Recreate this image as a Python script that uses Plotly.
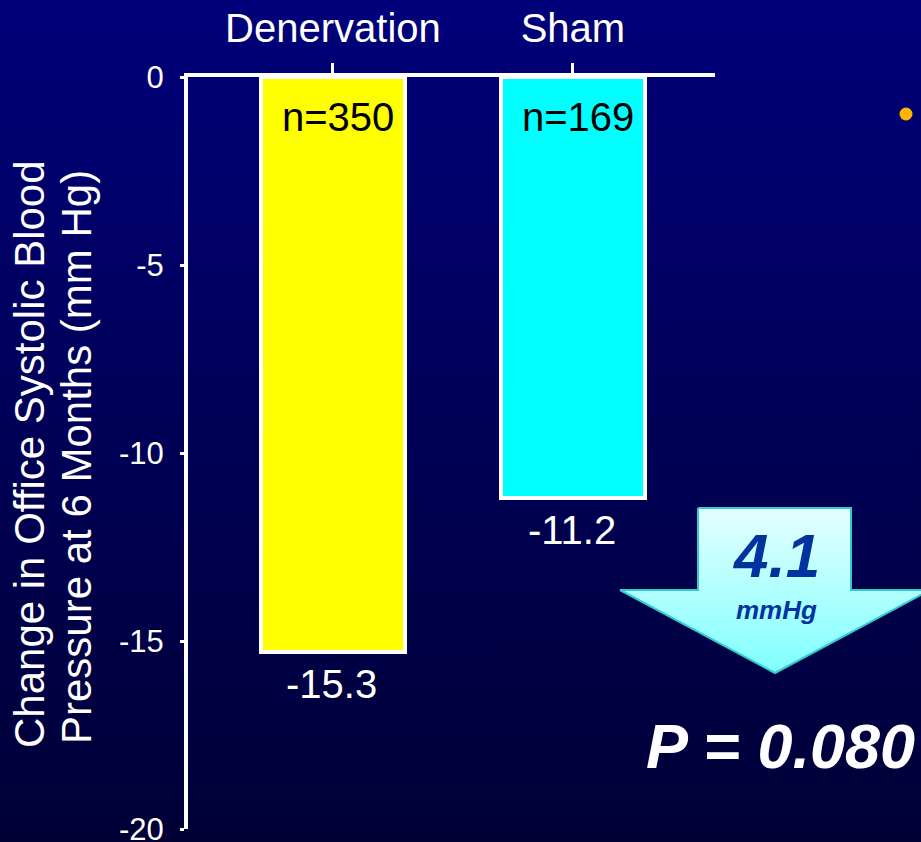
import base64
import plotly.graph_objects as go

# ---- data ----
categories = ["Denervation", "Sham"]
values = [-15.3, -11.2]
n_labels = ["n=350", "n=169"]
value_labels = ["-15.3", "-11.2"]
bar_colors = ["#ffff00", "#00ffff"]
y_ticks = [0, -5, -10, -15, -20]
y_ticktext = ["0", "-5", "-10", "-15", "-20"]
y_title_lines = ["Change in Office Systolic Blood", "Pressure at 6 Months (mm Hg)"]
diff_text = "4.1"
diff_unit = "mmHg"
p_text = "P = 0.080"

W, H = 921, 842
FONT = "Liberation Sans, Arial, sans-serif"

# decorative arrow outline (pixel space of the overlay layer)
arrow_x = [698, 851, 851, 930, 775, 620, 698, 698]
arrow_y = [508, 508, 590, 590, 673, 590, 590, 508]

fig = go.Figure()

fig.add_trace(go.Bar(
    x=categories, y=values, width=0.6,
    marker=dict(color=bar_colors, line=dict(color="white", width=4)),
    showlegend=False, hoverinfo="skip",
))

# arrow on overlay pixel layer
fig.add_trace(go.Scatter(
    x=arrow_x, y=arrow_y, mode="lines", fill="toself",
    line=dict(color="#33cccc", width=2),
    fillgradient=dict(type="vertical", colorscale=[[0, "#80ffff"], [1, "#e4ffff"]]),
    xaxis="x2", yaxis="y2", showlegend=False, hoverinfo="skip",
))
# bullet dot
fig.add_trace(go.Scatter(
    x=[906], y=[114], mode="markers",
    marker=dict(color="#ffb400", size=13, line=dict(width=0)),
    xaxis="x2", yaxis="y2", showlegend=False, hoverinfo="skip",
))

annotations = []
for c, n in zip(categories, n_labels):
    annotations.append(dict(x=c, y=0, xref="x", yref="y", text=n, showarrow=False,
                            yanchor="top", yshift=-16, xshift=5,
                            font=dict(family=FONT, size=40, color="black")))
for c, v, t in zip(categories, values, value_labels):
    annotations.append(dict(x=c, y=v, xref="x", yref="y", text=t, showarrow=False,
                            yanchor="top", yshift=-8, xshift=-1,
                            font=dict(family=FONT, size=40, color="white")))
# y title (two rotated lines)
annotations.append(dict(x=29 / W, y=1 - 454 / H, xref="paper", yref="paper", text=y_title_lines[0],
                        showarrow=False, textangle=-90, xanchor="center", yanchor="middle",
                        font=dict(family=FONT, size=42, color="white")))
annotations.append(dict(x=76 / W, y=1 - 457 / H, xref="paper", yref="paper", text=y_title_lines[1],
                        showarrow=False, textangle=-90, xanchor="center", yanchor="middle",
                        font=dict(family=FONT, size=42, color="white")))
annotations.append(dict(x=776 / W, y=1 - 555 / H, xref="paper", yref="paper", text="<b><i>%s</i></b>" % diff_text,
                        showarrow=False, xanchor="center", yanchor="middle",
                        font=dict(family=FONT, size=62, color="#0033a0")))
annotations.append(dict(x=776 / W, y=1 - 610 / H, xref="paper", yref="paper", text="<b><i>%s</i></b>" % diff_unit,
                        showarrow=False, xanchor="center", yanchor="middle",
                        font=dict(family=FONT, size=26, color="#0033a0")))
annotations.append(dict(x=780 / W, y=1 - 746 / H, xref="paper", yref="paper", text="<b><i>%s</i></b>" % p_text,
                        showarrow=False, xanchor="center", yanchor="middle",
                        font=dict(family=FONT, size=63, color="white")))

svg = ('<svg xmlns="http://www.w3.org/2000/svg" width="%d" height="%d">'
       '<defs><linearGradient id="g" x1="0" y1="0" x2="0" y2="1">'
       '<stop offset="0" stop-color="#00007a"/><stop offset="1" stop-color="#000036"/>'
       '</linearGradient></defs><rect width="%d" height="%d" fill="url(#g)"/></svg>') % (W, H, W, H)
bg_src = "data:image/svg+xml;base64," + base64.b64encode(svg.encode()).decode()

fig.update_layout(
    width=W, height=H,
    margin=dict(l=0, r=0, t=0, b=0, autoexpand=False),
    paper_bgcolor="#000058",
    plot_bgcolor="rgba(0,0,0,0)",
    images=[dict(source=bg_src, xref="paper", yref="paper", x=0, y=1, sizex=1, sizey=1,
                 sizing="stretch", xanchor="left", yanchor="top", layer="below")],
    xaxis=dict(domain=[188 / W, 715 / W], range=[-0.604, 1.592], side="top",
               showline=True, linecolor="white", linewidth=4,
               ticks="outside", ticklen=10, tickwidth=3, tickcolor="white",
               tickfont=dict(family=FONT, size=40, color="white"), ticklabelstandoff=5,
               showgrid=False, zeroline=False, anchor="y", automargin=False),
    yaxis=dict(domain=[1 - 829 / H, 1 - 77 / H], range=[-20, 0],
               tickvals=y_ticks, ticktext=y_ticktext,
               showline=True, linecolor="white", linewidth=4,
               ticks="outside", ticklen=4, tickwidth=3, tickcolor="white",
               tickfont=dict(family=FONT, size=31, color="white"), ticklabelstandoff=10,
               ticklabeloverflow="allow",
               showgrid=False, zeroline=False, anchor="x", automargin=False),
    xaxis2=dict(domain=[0, 1], range=[0, W], visible=False, anchor="y2", fixedrange=True, automargin=False),
    yaxis2=dict(domain=[0, 1], range=[H, 0], visible=False, anchor="x2", fixedrange=True, automargin=False),
    annotations=annotations,
    bargap=0,
)

fig.write_html("out.html")
